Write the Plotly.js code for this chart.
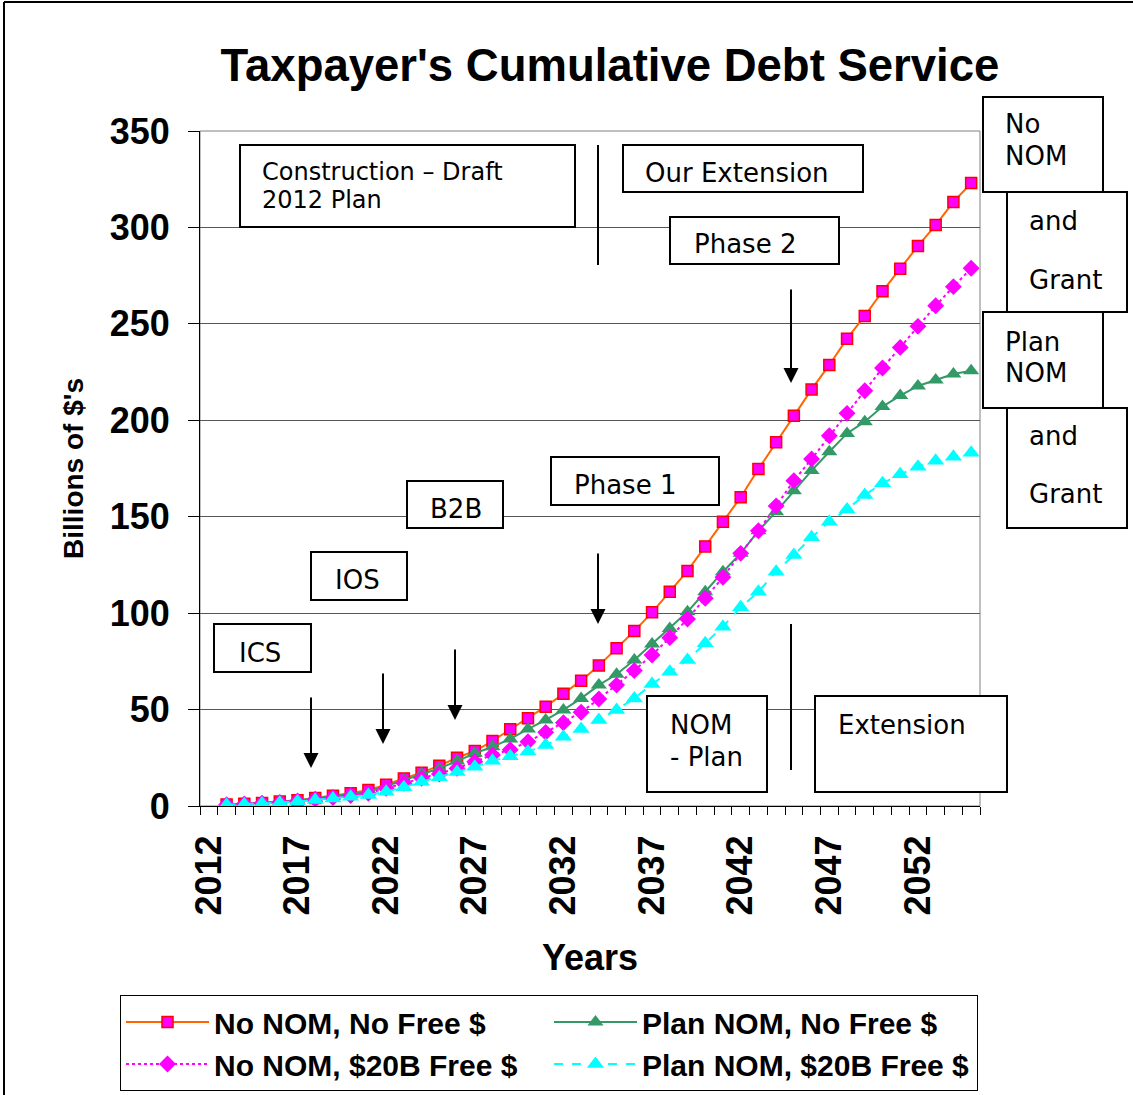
<!DOCTYPE html>
<html><head><meta charset="utf-8">
<script src="https://cdn.plot.ly/plotly-3.0.1.min.js"></script>
<style>html,body{margin:0;padding:0;background:#fff}</style>
</head><body><div id="chart" style="width:1133px;height:1095px"></div>
<script>
// ---- data ----
const years = [2013,2014,2015,2016,2017,2018,2019,2020,2021,2022,2023,2024,2025,2026,2027,2028,2029,2030,2031,2032,2033,2034,2035,2036,2037,2038,2039,2040,2041,2042,2043,2044,2045,2046,2047,2048,2049,2050,2051,2052,2053,2054,2055];
const noNomNoFree = [0.8,1.2,1.6,2.3,3.0,4.2,5.3,6.6,8.3,11.0,14.3,17.3,20.9,25.0,28.5,33.7,39.8,45.5,51.5,58.2,65.0,72.8,81.8,90.7,100.4,111.1,121.9,134.6,147.4,160.1,174.7,188.6,202.4,216.0,228.7,242.3,254.1,266.9,278.6,290.4,301.2,313.2,323.0];
const planNomNoFree = [0.7,1.1,1.5,2.1,2.8,3.9,4.9,6.1,7.4,10.4,13.5,16.6,19.5,23.3,27.3,30.7,34.8,39.9,44.6,49.8,55.8,62.7,68.3,75.7,84.0,92.1,100.7,111.1,121.5,131.0,142.7,152.6,163.5,173.9,183.7,193.2,199.3,207.1,212.8,217.8,220.9,224.0,225.7];
const noNom20BFree = [0.7,1.0,1.4,1.9,2.6,3.5,4.4,5.4,6.6,9.2,11.8,14.4,16.6,19.5,23.0,26.5,29.2,33.3,38.2,43.2,48.6,55.5,62.7,70.2,78.3,87.3,97.0,107.7,118.6,131.0,142.7,155.6,168.7,179.9,192.0,203.6,215.3,227.1,237.8,248.7,259.4,269.3,278.8];
const planNom20BFree = [0.6,0.9,1.3,1.7,2.3,3.1,3.9,4.8,5.7,7.4,9.7,12.6,14.9,17.6,20.4,23.4,25.8,28.2,31.6,35.9,39.9,44.6,49.8,55.8,63.3,69.6,75.7,84.4,93.0,103.0,111.1,121.5,130.1,139.3,147.4,153.8,161.3,167.3,172.0,175.9,179.0,181.1,183.2];
const tickYears = [2012,2017,2022,2027,2032,2037,2042,2047,2052];
const tickLabels = ['2012','2017','2022','2027','2032','2037','2042','2047','2052'];
const seriesNames = ['No NOM, No Free $','Plan NOM, No Free $','No NOM, $20B Free $','Plan NOM, $20B Free $'];

// ---- layout geometry (pixels) ----
const FW = 1133, FH = 1095, L = 200, T = 131, PW = 780, PH = 675;
const px = x => (x - L) / PW;
const py = y => (T + PH - y) / PH;

const boxes = [
  [240,145,575,227],[623,145,863,192],[670,217,839,264],[551,457,719,505],
  [407,481,503,528],[311,552,407,600],[214,624,311,672],[647,696,767,792],
  [815,696,1007,792],[983,97,1103,192],[1007,192,1127,312],[983,312,1103,408],[1007,408,1127,528]
];
const labels = [
  ['Construction – Draft',260,172,24],['2012 Plan',260,200,24],['Our Extension',643,173,26],
  ['Phase 2',692,244,26],['Phase 1',572,485,26],['B2B',428,509,26],['IOS',333,580,26],['ICS',237,653,26],
  ['NOM',668,725,26],['- Plan',668,757,26],['Extension',836,725,26],
  ['No',1003,124,26],['NOM',1003,156,26],['and',1027,221,26],['Grant',1027,280,26],
  ['Plan',1003,342,26],['NOM',1003,373,26],['and',1027,436,26],['Grant',1027,494,26]
];
const arrows = [[791,288,383],[598,552,624],[455,648,720],[383,672,744],[311,696,768]];
const vlines = [[598,145,265],[791,624,770]];

const shapes = [];
shapes.push({type:'rect',xref:'paper',yref:'paper',x0:0,x1:1,y0:0,y1:1,line:{color:'#808080',width:1},layer:'below'});
boxes.forEach(b => shapes.push({type:'rect',xref:'paper',yref:'paper',x0:px(b[0]),x1:px(b[2]),y0:py(b[3]),y1:py(b[1]),line:{color:'#000',width:2},fillcolor:'#fff',layer:'above'}));
vlines.forEach(v => shapes.push({type:'line',xref:'paper',yref:'paper',x0:px(v[0]),x1:px(v[0]),y0:py(v[1]),y1:py(v[2]),line:{color:'#000',width:2}}));
shapes.push({type:'line',xref:'paper',yref:'paper',x0:px(4),x1:px(1133),y0:py(2),y1:py(2),line:{color:'#000',width:2}});
shapes.push({type:'line',xref:'paper',yref:'paper',x0:px(4),x1:px(4),y0:py(2),y1:py(1095),line:{color:'#000',width:2}});

const annotations = labels.map(l => ({xref:'paper',yref:'paper',x:px(l[1]),y:py(l[2]),text:l[0],showarrow:false,xanchor:'left',yanchor:'middle',
  font:{family:'DejaVu Sans, Verdana, sans-serif',size:l[3],color:'#000'}}));
arrows.forEach(a => annotations.push({xref:'paper',yref:'paper',x:px(a[0]),y:py(a[2]),ax:0,ay:-(a[2]-a[1]),text:'',showarrow:true,arrowhead:2,arrowsize:1.5,arrowwidth:2,arrowcolor:'#000',standoff:0}));

const boldFont = (s) => ({family:'Liberation Sans, Arial, sans-serif',size:s,color:'#000',weight:'bold'});

const traces = [
  {x:years,y:noNomNoFree,name:seriesNames[0],mode:'lines+markers',line:{color:'#FF6600',width:2},marker:{symbol:'square',size:11,color:'#FF00FF',line:{color:'#FF0000',width:1.5}}},
  {x:years,y:planNomNoFree,name:seriesNames[1],mode:'lines+markers',line:{color:'#339966',width:2},marker:{symbol:'triangle-up',size:14,color:'#339966'}},
  {x:years,y:noNom20BFree,name:seriesNames[2],mode:'lines+markers',line:{color:'#FF00FF',width:2,dash:'dot'},marker:{symbol:'diamond',size:13,color:'#FF00FF'}},
  {x:years,y:planNom20BFree,name:seriesNames[3],mode:'lines+markers',line:{color:'#00FFFF',width:2,dash:'dash'},marker:{symbol:'triangle-up',size:15,color:'#00FFFF'}}
];

const layout = {
  width:FW,height:FH,
  margin:{l:L,r:FW-L-PW,t:T,b:FH-T-PH,autoexpand:false},
  paper_bgcolor:'#fff',plot_bgcolor:'#fff',
  title:{text:"Taxpayer's Cumulative Debt Service",font:boldFont(45.5),xref:'paper',x:px(610),xanchor:'center',yref:'container',y:1-65/FH,yanchor:'middle'},
  xaxis:{range:[2011.5,2055.5],tickmode:'array',tickvals:tickYears,ticktext:tickLabels,tickangle:-90,
    tickfont:boldFont(36),ticks:'outside',ticklen:14,tickcolor:'rgba(0,0,0,0)',
    minor:{ticks:'outside',ticklen:8,tickcolor:'#000',tick0:2011.5,dtick:1,showgrid:false},
    showline:true,linecolor:'#000',linewidth:1,showgrid:false,zeroline:false,
    title:{text:'Years',font:boldFont(36),standoff:30}},
  yaxis:{range:[0,350],dtick:50,tick0:0,tickfont:boldFont(36),ticks:'outside',ticklen:11,tickcolor:'#000',
    ticklabelstandoff:11,showline:true,linecolor:'#000',linewidth:1,showgrid:true,gridcolor:'#555',gridwidth:1,zeroline:false,
    title:{text:"Billions of $'s",font:boldFont(28),standoff:17}},
  legend:{orientation:'h',x:px(120),xanchor:'left',y:py(995),yanchor:'top',xref:'paper',yref:'paper',
    bgcolor:'#fff',bordercolor:'#000',borderwidth:1,font:boldFont(30),entrywidth:330,itemwidth:83},
  shapes:shapes,annotations:annotations,showlegend:true
};
Plotly.newPlot('chart',traces,layout,{displayModeBar:false,staticPlot:true});
</script></body></html>
